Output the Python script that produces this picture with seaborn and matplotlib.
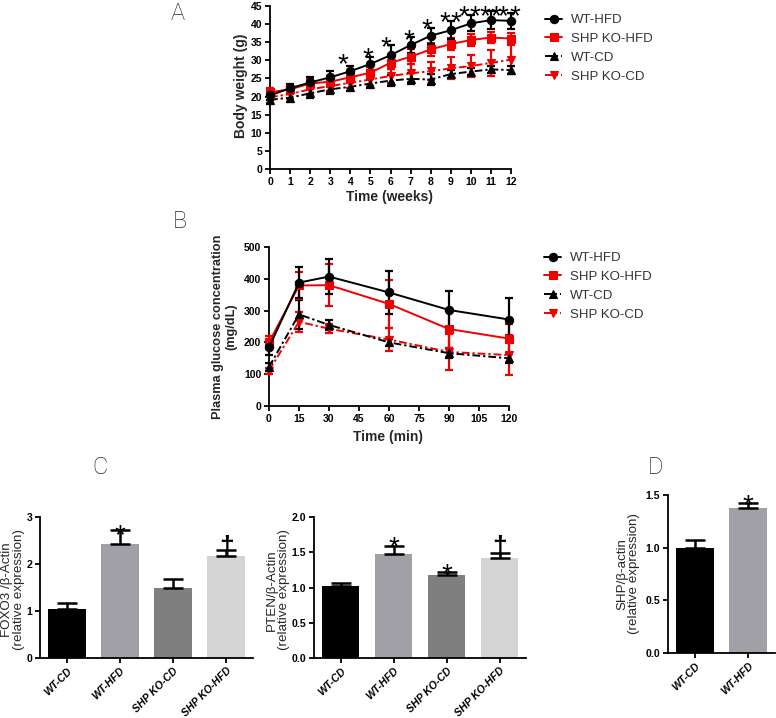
import numpy as np
import matplotlib
matplotlib.use('Agg')
import matplotlib.pyplot as plt
import seaborn as sns
from matplotlib import font_manager

# ---------------- data ----------------
weeks = [0, 1, 2, 3, 4, 5, 6, 7, 8, 9, 10, 11, 12]
bw_wt_hfd = [20.3, 22.3, 23.9, 25.3, 27.0, 29.0, 31.4, 34.2, 36.8, 38.3, 40.2, 41.1, 40.9]
bw_wt_hfd_sd = [1.3, 1.2, 1.4, 1.8, 1.5, 1.8, 2.7, 2.3, 2.2, 2.5, 2.2, 2.5, 2.2]
bw_ko_hfd = [21.2, 22.0, 23.6, 24.1, 25.3, 26.6, 29.3, 31.0, 33.0, 34.5, 35.6, 36.3, 36.0]
bw_ko_hfd_sd = [1.2, 1.2, 1.3, 1.5, 1.5, 1.6, 1.7, 2.0, 1.8, 1.7, 1.6, 1.4, 1.6]
bw_wt_cd = [19.1, 19.7, 20.9, 22.0, 22.7, 23.6, 24.4, 24.9, 24.7, 26.2, 26.9, 27.5, 27.3]
bw_wt_cd_sd = [1.2, 1.2, 1.2, 1.2, 1.2, 1.2, 1.5, 1.5, 1.5, 1.2, 1.0, 1.0, 1.0]
bw_ko_cd = [19.8, 20.7, 22.0, 22.9, 23.8, 24.7, 25.7, 26.4, 27.0, 27.8, 28.4, 29.3, 30.2]
bw_ko_cd_sd = [1.5, 1.5, 1.5, 1.5, 1.5, 1.8, 2.0, 2.5, 2.5, 3.0, 3.0, 3.5, 4.0]
star_x = [3.62, 4.85, 5.76, 6.92, 7.82, 8.72, 9.28, 9.64, 10.19, 10.72, 11.24, 11.62, 12.17]
star_y = [31.2, 32.8, 35.8, 37.7, 40.8, 42.7, 42.7, 44.3, 44.3, 44.3, 44.3, 44.3, 44.3]

times = [0, 15, 30, 60, 90, 120]
glu_wt_hfd = [184, 388, 407, 357, 302, 272]
glu_wt_hfd_sd = [25, 49, 55, 69, 61, 67]
glu_ko_hfd = [200, 379, 380, 321, 242, 212]
glu_ko_hfd_sd = [20, 42, 66, 76, 60, 45]
glu_wt_cd = [123, 288, 255, 200, 166, 150]
glu_wt_cd_sd = [12, 45, 15, 10, 15, 15]
glu_ko_cd = [111, 265, 243, 209, 170, 160]
glu_ko_cd_sd = [10, 32, 15, 35, 57, 62]

series_names = ['WT-HFD', 'SHP KO-HFD', 'WT-CD', 'SHP KO-CD']

groups4 = ['WT-CD', 'WT-HFD', 'SHP KO-CD', 'SHP KO-HFD']
foxo3 = [1.05, 2.43, 1.49, 2.18]
foxo3_err = [0.11, 0.30, 0.19, 0.11]
foxo3_marks = ['', '*', '', '\u2020']
foxo3_mark_y = [0, 2.79, 0, 2.36]
pten = [1.02, 1.475, 1.18, 1.42]
pten_err = [0.04, 0.115, 0.04, 0.07]
pten_marks = ['', '*', '*', '\u2020']
pten_mark_y = [0, 1.68, 1.30, 1.58]
groups2 = ['WT-CD', 'WT-HFD']
shp = [1.00, 1.377]
shp_err = [0.07, 0.043]
shp_marks = ['', '*']
shp_mark_y = [0, 1.48]

# ---------------- style ----------------
sns.set_theme(style='ticks')
plt.rcParams['font.family'] = ['Liberation Sans', 'DejaVu Sans']
names = {f.name for f in font_manager.fontManager.ttflist}
narrow = 'Liberation Sans Narrow' if 'Liberation Sans Narrow' in names else 'Liberation Sans'
light = 'Roboto' if 'Roboto' in names else 'DejaVu Sans'

W, H = 776, 718
fig = plt.figure(figsize=(W / 100, H / 100), dpi=100)
RED = '#f00000'


def add_ax(l, r, t, b):
    return fig.add_axes([l / W, 1 - b / H, (r - l) / W, (b - t) / H])


def style(ax, fs=7.5, family=None):
    sns.despine(ax=ax)
    for s in ['left', 'bottom']:
        ax.spines[s].set_linewidth(1.3)
        ax.spines[s].set_color('black')
    ax.tick_params(direction='out', length=3.5, width=1.3, color='black',
                   labelsize=fs, pad=2, labelcolor='black')
    for lab in ax.get_yticklabels() + ax.get_xticklabels():
        lab.set_fontweight('bold')
        if family:
            lab.set_family(family)


def mark(ax, x, y, s, fs):
    off = -0.57 * fs if s == '*' else -0.28 * fs
    ax.annotate(s, (x, y), xytext=(0, off), textcoords='offset points',
                ha='center', va='baseline', fontsize=fs,
                fontweight='normal' if s == '*' else 'bold',
                color='black', annotation_clip=False, zorder=10)


def line_panel(ax, x, data, order):
    handles = {}
    for name in order:
        vals, sd, color, marker, ls = data[name]
        sns.lineplot(x=x, y=vals, ax=ax, color=color, marker=marker, markersize=6,
                     markeredgecolor=color, markeredgewidth=0.8, linewidth=1.4,
                     linestyle=ls, clip_on=False, zorder=5)
        handles[name] = ax.lines[-1]
        eb = ax.errorbar(x, vals, yerr=sd, fmt='none', ecolor=color, elinewidth=1.6,
                         capsize=3, capthick=1.6, zorder=4)
        for art in list(eb.lines[1]) + list(eb.lines[2]):
            art.set_clip_on(False)
    return handles


dashdot = (0, (4, 1.5, 1.2, 1.5))

# ---------------- panel A ----------------
axA = add_ax(270, 511, 6, 169)
dataA = {
    'WT-HFD': (bw_wt_hfd, bw_wt_hfd_sd, 'black', 'o', '-'),
    'SHP KO-HFD': (bw_ko_hfd, bw_ko_hfd_sd, RED, 's', '-'),
    'WT-CD': (bw_wt_cd, bw_wt_cd_sd, 'black', '^', dashdot),
    'SHP KO-CD': (bw_ko_cd, bw_ko_cd_sd, RED, 'v', dashdot),
}
hA = line_panel(axA, weeks, dataA, ['SHP KO-CD', 'WT-CD', 'SHP KO-HFD', 'WT-HFD'])
axA.set_xlim(0, 12)
axA.set_ylim(0, 45)
axA.set_xticks(weeks)
axA.set_yticks(range(0, 50, 5))
axA.set_xlabel('')
axA.set_ylabel('')
style(axA)
for sx, sy in zip(star_x, star_y):
    mark(axA, sx, sy, '*', 20)
fig.text(241 / W, 1 - 86 / H, 'Body weight (g)', rotation=90, ha='center', va='center',
         fontsize=10, fontweight='bold')
fig.text(390 / W, 1 - 197 / H, 'Time (weeks)', ha='center', va='center',
         fontsize=10, fontweight='bold')
fig.legend([hA[n] for n in series_names], series_names, loc='upper left',
           bbox_to_anchor=(545 / W, 1 - 14 / H), frameon=False, fontsize=9.5,
           handlelength=1.3, handletextpad=0.7, labelspacing=0.5,
           borderpad=0, borderaxespad=0, labelcolor='#333333')

# ---------------- panel B ----------------
axB = add_ax(269, 509, 247, 406)
dataB = {
    'WT-HFD': (glu_wt_hfd, glu_wt_hfd_sd, 'black', 'o', '-'),
    'SHP KO-HFD': (glu_ko_hfd, glu_ko_hfd_sd, RED, 's', '-'),
    'WT-CD': (glu_wt_cd, glu_wt_cd_sd, 'black', '^', dashdot),
    'SHP KO-CD': (glu_ko_cd, glu_ko_cd_sd, RED, 'v', dashdot),
}
hB = line_panel(axB, times, dataB, ['SHP KO-CD', 'WT-CD', 'SHP KO-HFD', 'WT-HFD'])
axB.set_xlim(0, 120)
axB.set_ylim(0, 500)
axB.set_xticks(range(0, 121, 15))
axB.set_yticks(range(0, 501, 100))
axB.set_xlabel('')
axB.set_ylabel('')
style(axB)
fig.text(225 / W, 1 - 327 / H, 'Plasma glucose concentration\n(mg/dL)', rotation=90,
         ha='center', va='center', multialignment='center', fontsize=9.2,
         fontweight='bold', linespacing=1.15)
fig.text(388 / W, 1 - 437 / H, 'Time (min)', ha='center', va='center',
         fontsize=10, fontweight='bold')
fig.legend([hB[n] for n in series_names], series_names, loc='upper left',
           bbox_to_anchor=(544 / W, 1 - 252 / H), frameon=False, fontsize=9.5,
           handlelength=1.3, handletextpad=0.7, labelspacing=0.5,
           borderpad=0, borderaxespad=0, labelcolor='#333333')


# ---------------- bar panels ----------------
def bar_panel(ax, groups, vals, errs, colors, ylim, yticks, ylabels, marks, mark_y):
    sns.barplot(x=groups, y=vals, hue=groups, palette=colors, saturation=1, width=0.71,
                ax=ax, legend=False, linewidth=0, errorbar=None)
    n = len(groups)
    ax.errorbar(range(n), vals, yerr=[np.zeros(n), errs], fmt='none', ecolor='black',
                elinewidth=1.8, capsize=7, capthick=1.8, zorder=5)
    ax.set_xlim(-0.5, n - 0.5)
    ax.set_ylim(*ylim)
    ax.set_yticks(yticks)
    ax.set_yticklabels(ylabels)
    ax.set_xticks(range(n))
    ax.set_xticklabels(groups, rotation=45, ha='right', va='top', rotation_mode='anchor',
                       fontstyle='italic')
    ax.set_xlabel('')
    ax.set_ylabel('')
    style(ax, fs=7.6, family=narrow)
    for i, (m, my) in enumerate(zip(marks, mark_y)):
        if m:
            mark(ax, i, my, m, 20 if m == '*' else 19)


colors4 = ['#000000', '#a0a0a6', '#7f7f7f', '#d4d4d4']
colors2 = ['#000000', '#a0a0a6']

ylab_kw = dict(rotation=90, ha='center', va='center', multialignment='center',
               fontsize=9.6, linespacing=0.95)

axC1 = add_ax(40, 253, 517, 658)
bar_panel(axC1, groups4, foxo3, foxo3_err, colors4, (0, 3), [0, 1, 2, 3],
          ['0', '1', '2', '3'], foxo3_marks, foxo3_mark_y)
fig.text(13 / W, 1 - 590 / H, 'FOXO3 /\u03b2-Actin\n(relative expression)', **ylab_kw)

axC2 = add_ax(314, 526, 517, 658)
bar_panel(axC2, groups4, pten, pten_err, colors4, (0, 2), [0, 0.5, 1, 1.5, 2],
          ['0.0', '0.5', '1.0', '1.5', '2.0'], pten_marks, pten_mark_y)
fig.text(278 / W, 1 - 590 / H, 'PTEN/\u03b2-Actin\n(relative expression)', **ylab_kw)

axD = add_ax(668, 775, 495, 653)
bar_panel(axD, groups2, shp, shp_err, colors2, (0, 1.5), [0, 0.5, 1, 1.5],
          ['0.0', '0.5', '1.0', '1.5'], shp_marks, shp_mark_y)
fig.text(628 / W, 1 - 574 / H, 'SHP/\u03b2-actin\n(relative expression)', **ylab_kw)

# ---------------- panel letters ----------------
for letter, (px, py) in {'A': (178, 14), 'B': (180, 222), 'C': (100, 467), 'D': (656, 467)}.items():
    fig.text(px / W, 1 - py / H, letter, ha='center', va='center', fontsize=17,
             family=light, fontweight='light')

fig.savefig('out.png', dpi=100)
